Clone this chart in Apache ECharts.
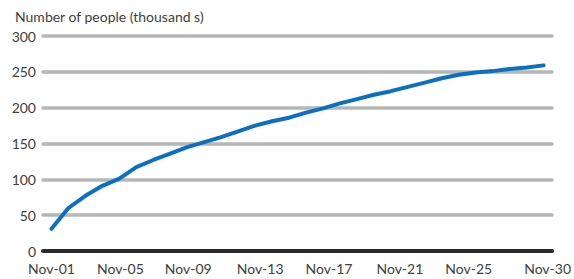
<!DOCTYPE html>
<html>
<head>
<meta charset="utf-8">
<script src="https://cdn.jsdelivr.net/npm/echarts@6/dist/echarts.min.js"></script>
<style>
  html, body { margin: 0; padding: 0; background: #fff; }
  #chart { width: 574px; height: 279px; }
</style>
</head>
<body>
<div id="chart"></div>
<script>
// days of November
const days = []
for (let d = 1; d <= 30; d++) days.push('Nov-' + String(d).padStart(2, '0'))

// cumulative number of people, thousands
const people = [
  31, 60, 77, 91, 101, 117, 127, 136, 145, 152,
  159, 167, 175, 181, 186, 193, 199, 206, 212, 218,
  223, 229, 235, 241, 246, 249, 251, 254, 256, 259
]

const yTicks = { min: 0, max: 300, step: 50 }
const shownLabels = [0, 4, 8, 12, 16, 20, 24, 29]
// the original's labels drift a little to the right of their points
const labelShift = { 0: 0, 4: 1, 8: 1, 12: 5, 16: 6, 20: 9, 24: 10, 29: 4 }

const textColor = '#404040'
const font = 'Lato, "Open Sans", sans-serif'

const rich = {}
shownLabels.forEach((i) => {
  rich['s' + i] = { padding: [0, 0, 0, labelShift[i] * 2], fontFamily: font, fontSize: 14, color: textColor }
})

const chart = echarts.init(document.getElementById('chart'), null, { renderer: 'svg' })
chart.setOption({
  animation: false,
  title: {
    text: 'Number of people (thousand s)',
    left: 10,
    top: 4,
    textStyle: { fontFamily: font, fontSize: 14, fontWeight: 'normal', color: textColor }
  },
  grid: { left: 43, right: 20, top: 36, bottom: 28 },
  xAxis: {
    type: 'category',
    data: days,
    boundaryGap: true,
    axisLine: { lineStyle: { color: '#2b2b2b', width: 4 } },
    axisTick: { show: false },
    axisLabel: {
      interval: (i) => shownLabels.includes(i),
      formatter: (v, i) => '{s' + i + '|' + v + '}',
      rich,
      margin: 10,
      fontFamily: font,
      fontSize: 14,
      color: textColor
    }
  },
  yAxis: {
    type: 'value',
    min: yTicks.min,
    max: yTicks.max,
    interval: yTicks.step,
    axisLine: { show: false },
    axisTick: { show: false },
    axisLabel: { margin: 7, fontFamily: font, fontSize: 14, color: textColor },
    splitLine: { lineStyle: { color: '#b5b7b7', width: 3.5, cap: 'round' } }
  },
  series: [{
    type: 'line',
    data: people,
    symbol: 'none',
    lineStyle: { color: '#0a70bf', width: 4, cap: 'round', join: 'round' }
  }]
})
</script>
</body>
</html>
